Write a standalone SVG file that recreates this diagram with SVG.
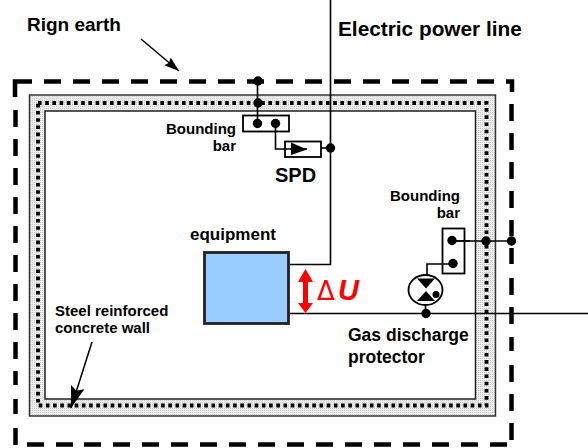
<svg xmlns="http://www.w3.org/2000/svg" width="588" height="448" viewBox="0 0 588 448">
<style>
text{font-family:"Liberation Sans",Arial,sans-serif;font-weight:bold;fill:#000}
.w{fill:none;stroke:#000;stroke-width:1.6}
.b{fill:none;stroke:#000;stroke-width:1.8}
.d{fill:#000;stroke:none}
.sm{font-size:15px}
</style>
<defs>
<pattern id="stip" width="2" height="2" patternUnits="userSpaceOnUse"><rect width="2" height="2" fill="#eeeeee"/><rect width="1" height="1" fill="#c8c8c8"/></pattern>
<marker id="ah" markerUnits="userSpaceOnUse" markerWidth="26" markerHeight="20" refX="22" refY="7" orient="auto"><path d="M0 0L22 7L0 14L4 7Z" fill="#000"/></marker>
<marker id="ah2" markerUnits="userSpaceOnUse" markerWidth="20" markerHeight="20" refX="15" refY="5" orient="auto"><path d="M0 0L15 5L0 10L2 5Z" fill="#000"/></marker>
</defs>
<g id="ring-earth">
<path d="M15 97V81.500H32M44 81.500H61M73 81.500H90M102 81.500H119M131 81.500H148M160 81.500H177M189 81.500H206M218 81.500H235M247 81.500H264M276 81.500H293M305 81.500H322M334 81.500H351M363 81.500H380M392 81.500H409M421 81.500H438M450 81.500H467M477 81.500H494M506 81.500H512V92" fill="none" stroke="#000" stroke-width="4.500"/>
<path d="M15.500 110V127M15.500 139V156M15.500 168V185M15.500 197V214M15.500 226V243M15.500 255V272M15.500 284V301M15.500 313V330M15.500 342V359M15.500 371V385M15.500 399V414M15.500 428V445" fill="none" stroke="#000" stroke-width="4.500"/>
<path d="M511.500 104V121M511.500 133V150M511.500 162V179M511.500 191V208M511.500 220V236M511.500 248V264M511.500 278V295M511.500 307V324M511.500 337V351M511.500 365V382M511.500 394V411M511.500 423V440" fill="none" stroke="#000" stroke-width="4.500"/>
<path d="M27 444.500H44M56 444.500H73M84 444.500H101M113 444.500H130M142 444.500H159M171 444.500H188M200 444.500H217M229 444.500H246M258 444.500H275M287 444.500H304M316 444.500H333M345 444.500H362M374 444.500H391M403 444.500H420M432 444.500H449M461 444.500H478M490 444.500H507" fill="none" stroke="#000" stroke-width="4.500"/>
</g>
<g id="wall">
<path fill-rule="evenodd" d="M29.500 95H495.500V416H29.500ZM45 111V399H475.500V111Z" fill="url(#stip)"/>
<rect x="29.500" y="95" width="466" height="321" fill="none" stroke="#333" stroke-width="1.500"/>
<rect x="45" y="111" width="430.500" height="288" fill="none" stroke="#222" stroke-width="1.500"/>
<rect x="38" y="103" width="448.500" height="302.500" fill="none" stroke="#000" stroke-width="3.800" stroke-dasharray="3.600 3.600"/>
</g>
<g id="connectors">
<path class="w" d="M330.500 0V264.500H290"/>
<path class="w" d="M257.500 81V127"/>
<path class="w" d="M275.500 124V149H290"/>
<path class="w" d="M321 148H330.500"/>
<path class="w" d="M451.500 241H512"/>
<path class="w" d="M452 264H427V278"/>
<path class="w" d="M425.500 304V314"/>
<path class="w" d="M290 313.500H588"/>
<circle class="d" cx="258" cy="81" r="4.700"/>
<circle class="d" cx="258" cy="103" r="4.700"/>
<circle class="d" cx="330.500" cy="148" r="4.700"/>
<circle class="d" cx="486" cy="241" r="4.700"/>
<circle class="d" cx="511.500" cy="241" r="4.700"/>
<circle class="d" cx="426" cy="313.500" r="4.700"/>
</g>
<g id="label-ring-earth"><text x="27" y="31" style="font-size:19px">Rign earth</text>
<path d="M141 39L179 71" stroke="#000" stroke-width="1.500" fill="none" marker-end="url(#ah2)"/></g>
<g id="label-power"><text x="338" y="36" style="font-size:20.800px">Electric power line</text></g>
<g id="bar-top">
<rect class="b" x="243" y="115.500" width="46" height="16"/>
<circle class="d" cx="257.500" cy="123.500" r="4.700"/>
<circle class="d" cx="275.500" cy="123.500" r="4.700"/>
<text class="sm" x="236" y="134" text-anchor="end">Bounding</text>
<text class="sm" x="236" y="151" text-anchor="end">bar</text>
</g>
<g id="spd">
<rect class="b" x="285" y="141.500" width="36" height="15.500" fill="#fff"/>
<path d="M290 149H307" class="w"/>
<path class="d" d="M291 142.500L307 149.500L291 155Z"/>
<text x="275" y="182" style="font-size:20px">SPD</text>
</g>
<g id="equipment">
<text x="190" y="240" style="font-size:17px">equipment</text>
<rect x="204.500" y="252.500" width="84" height="71" fill="#99ccff" stroke="#222" stroke-width="2.800"/>
</g>
<g id="delta-u">
<path fill="#f00" d="M305.500 269L313 282H308V303H313L305.500 313L298 303H303V282H298Z"/>
<text x="317" y="300" style="font-family:'DejaVu Sans',sans-serif;font-size:26px;font-weight:normal;fill:#f00">Δ</text>
<text x="338" y="300" style="font-size:29px;font-style:italic;fill:#f00">U</text>
</g>
<g id="bar-right">
<rect class="b" x="442.500" y="228.500" width="22" height="45" fill="#fff"/>
<circle class="d" cx="452" cy="240.500" r="4.700"/>
<circle class="d" cx="453" cy="263.500" r="4.700"/>
<path class="w" d="M452 241H470"/>
<text class="sm" x="460" y="201" text-anchor="end">Bounding</text>
<text class="sm" x="460" y="218" text-anchor="end">bar</text>
</g>
<g id="gas-protector">
<ellipse cx="425.500" cy="290" rx="17" ry="15" fill="#fff" stroke="#000" stroke-width="1.800"/>
<path class="d" d="M417 278.500H435L426 288.500Z"/>
<path class="d" d="M417 301H435L426 291Z"/>
<circle class="d" cx="436" cy="294.500" r="3.500"/>
<text x="348" y="341" style="font-size:17.500px">Gas discharge</text>
<text x="348" y="363" style="font-size:17.500px">protector</text>
</g>
<g id="label-wall">
<text x="55" y="316" style="font-size:15px">Steel reinforced</text>
<text x="55" y="333" style="font-size:15px">concrete wall</text>
<path d="M92 342L71 408" stroke="#000" stroke-width="1.500" fill="none" marker-end="url(#ah)"/>
</g>
</svg>
